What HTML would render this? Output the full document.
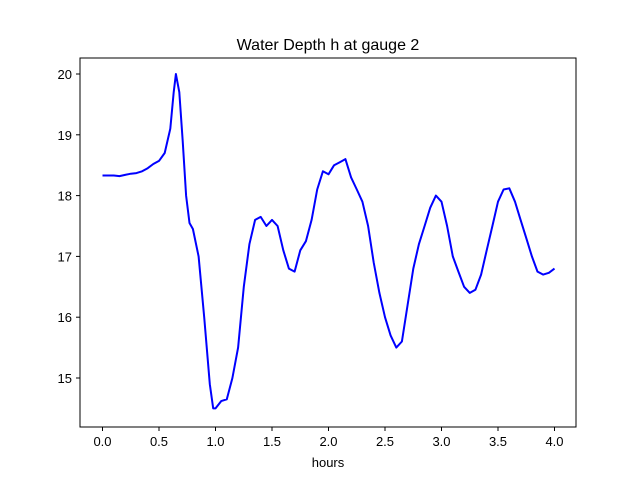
<!DOCTYPE html>
<html><head><meta charset="utf-8">
<style>
body{margin:0;background:#fff;}
svg{display:block;font-family:"Liberation Sans","DejaVu Sans",sans-serif;}
</style></head>
<body>
<svg id="chart" width="640" height="480">
<rect x="0" y="0" width="640" height="480" fill="#fff"/>
<text x="328" y="50" font-size="16" text-anchor="middle">Water Depth h at gauge 2</text>
<g id="axes"></g>
<path id="line" fill="none" stroke="#0000ff" stroke-width="2" stroke-linejoin="round"/>
<rect x="80" y="58" width="496" height="369" fill="none" stroke="#000" stroke-width="1"/>
<text x="328" y="467" font-size="13" text-anchor="middle">hours</text>
</svg>
<script>
const times=[0,0.05,0.1,0.15,0.2,0.25,0.3,0.35,0.4,0.45,0.5,0.55,0.6,0.63,0.65,0.68,0.71,0.74,0.77,0.8,0.85,0.9,0.95,0.98,1.0,1.05,1.1,1.15,1.2,1.25,1.3,1.35,1.4,1.45,1.5,1.55,1.6,1.65,1.7,1.75,1.8,1.85,1.9,1.95,2.0,2.05,2.1,2.15,2.2,2.25,2.3,2.35,2.4,2.45,2.5,2.55,2.6,2.65,2.7,2.75,2.8,2.85,2.9,2.95,3.0,3.05,3.1,3.15,3.2,3.25,3.3,3.35,3.4,3.45,3.5,3.55,3.6,3.65,3.7,3.75,3.8,3.85,3.9,3.95,4.0];
const depths=[18.33,18.33,18.33,18.32,18.34,18.36,18.37,18.4,18.45,18.52,18.57,18.7,19.1,19.7,20.0,19.7,18.9,18.0,17.55,17.45,17.0,16.0,14.9,14.5,14.5,14.62,14.65,15.0,15.5,16.5,17.2,17.6,17.65,17.5,17.6,17.5,17.1,16.8,16.75,17.1,17.25,17.6,18.1,18.4,18.35,18.5,18.55,18.6,18.3,18.1,17.9,17.5,16.9,16.4,16.0,15.7,15.5,15.6,16.2,16.8,17.2,17.5,17.8,18.0,17.9,17.5,17.0,16.75,16.5,16.4,16.45,16.7,17.1,17.5,17.9,18.1,18.12,17.9,17.6,17.3,17.0,16.75,16.7,16.73,16.8];
const xTicks=[0,0.5,1,1.5,2,2.5,3,3.5,4];
const xTickLabels=["0.0","0.5","1.0","1.5","2.0","2.5","3.0","3.5","4.0"];
const yTicks=[15,16,17,18,19,20];
const yTickLabels=["15","16","17","18","19","20"];

function xs(v){return 102.5+v*113;}
function ys(v){return 378-(v-15)*60.8;}
const NS="http://www.w3.org/2000/svg";
const axes=document.getElementById('axes');
xTicks.forEach((t,i)=>{
  const l=document.createElementNS(NS,'line');
  
  
  l.setAttribute('x1',xs(t));l.setAttribute('x2',xs(t));l.setAttribute('y1',427);l.setAttribute('y2',431);l.setAttribute('stroke','#000');
  axes.appendChild(l);
  const tx=document.createElementNS(NS,'text');
  
  
  tx.setAttribute('x',xs(t));tx.setAttribute('y',446);tx.setAttribute('font-size','13');tx.setAttribute('text-anchor','middle');
  tx.textContent=xTickLabels[i];axes.appendChild(tx);
});
yTicks.forEach((t,i)=>{
  const l=document.createElementNS(NS,'line');
  
  
  l.setAttribute('x1',76);l.setAttribute('x2',80);l.setAttribute('y1',ys(t));l.setAttribute('y2',ys(t));l.setAttribute('stroke','#000');
  axes.appendChild(l);
  const tx=document.createElementNS(NS,'text');
  
  
  tx.setAttribute('x',72);tx.setAttribute('y',ys(t)+5);tx.setAttribute('font-size','13');tx.setAttribute('text-anchor','end');
  tx.textContent=yTickLabels[i];axes.appendChild(tx);
});
document.getElementById('line').setAttribute('d',times.map((t,i)=>(i?'L':'M')+xs(t).toFixed(1)+','+ys(depths[i]).toFixed(1)).join(''));
</script>
</body></html>
